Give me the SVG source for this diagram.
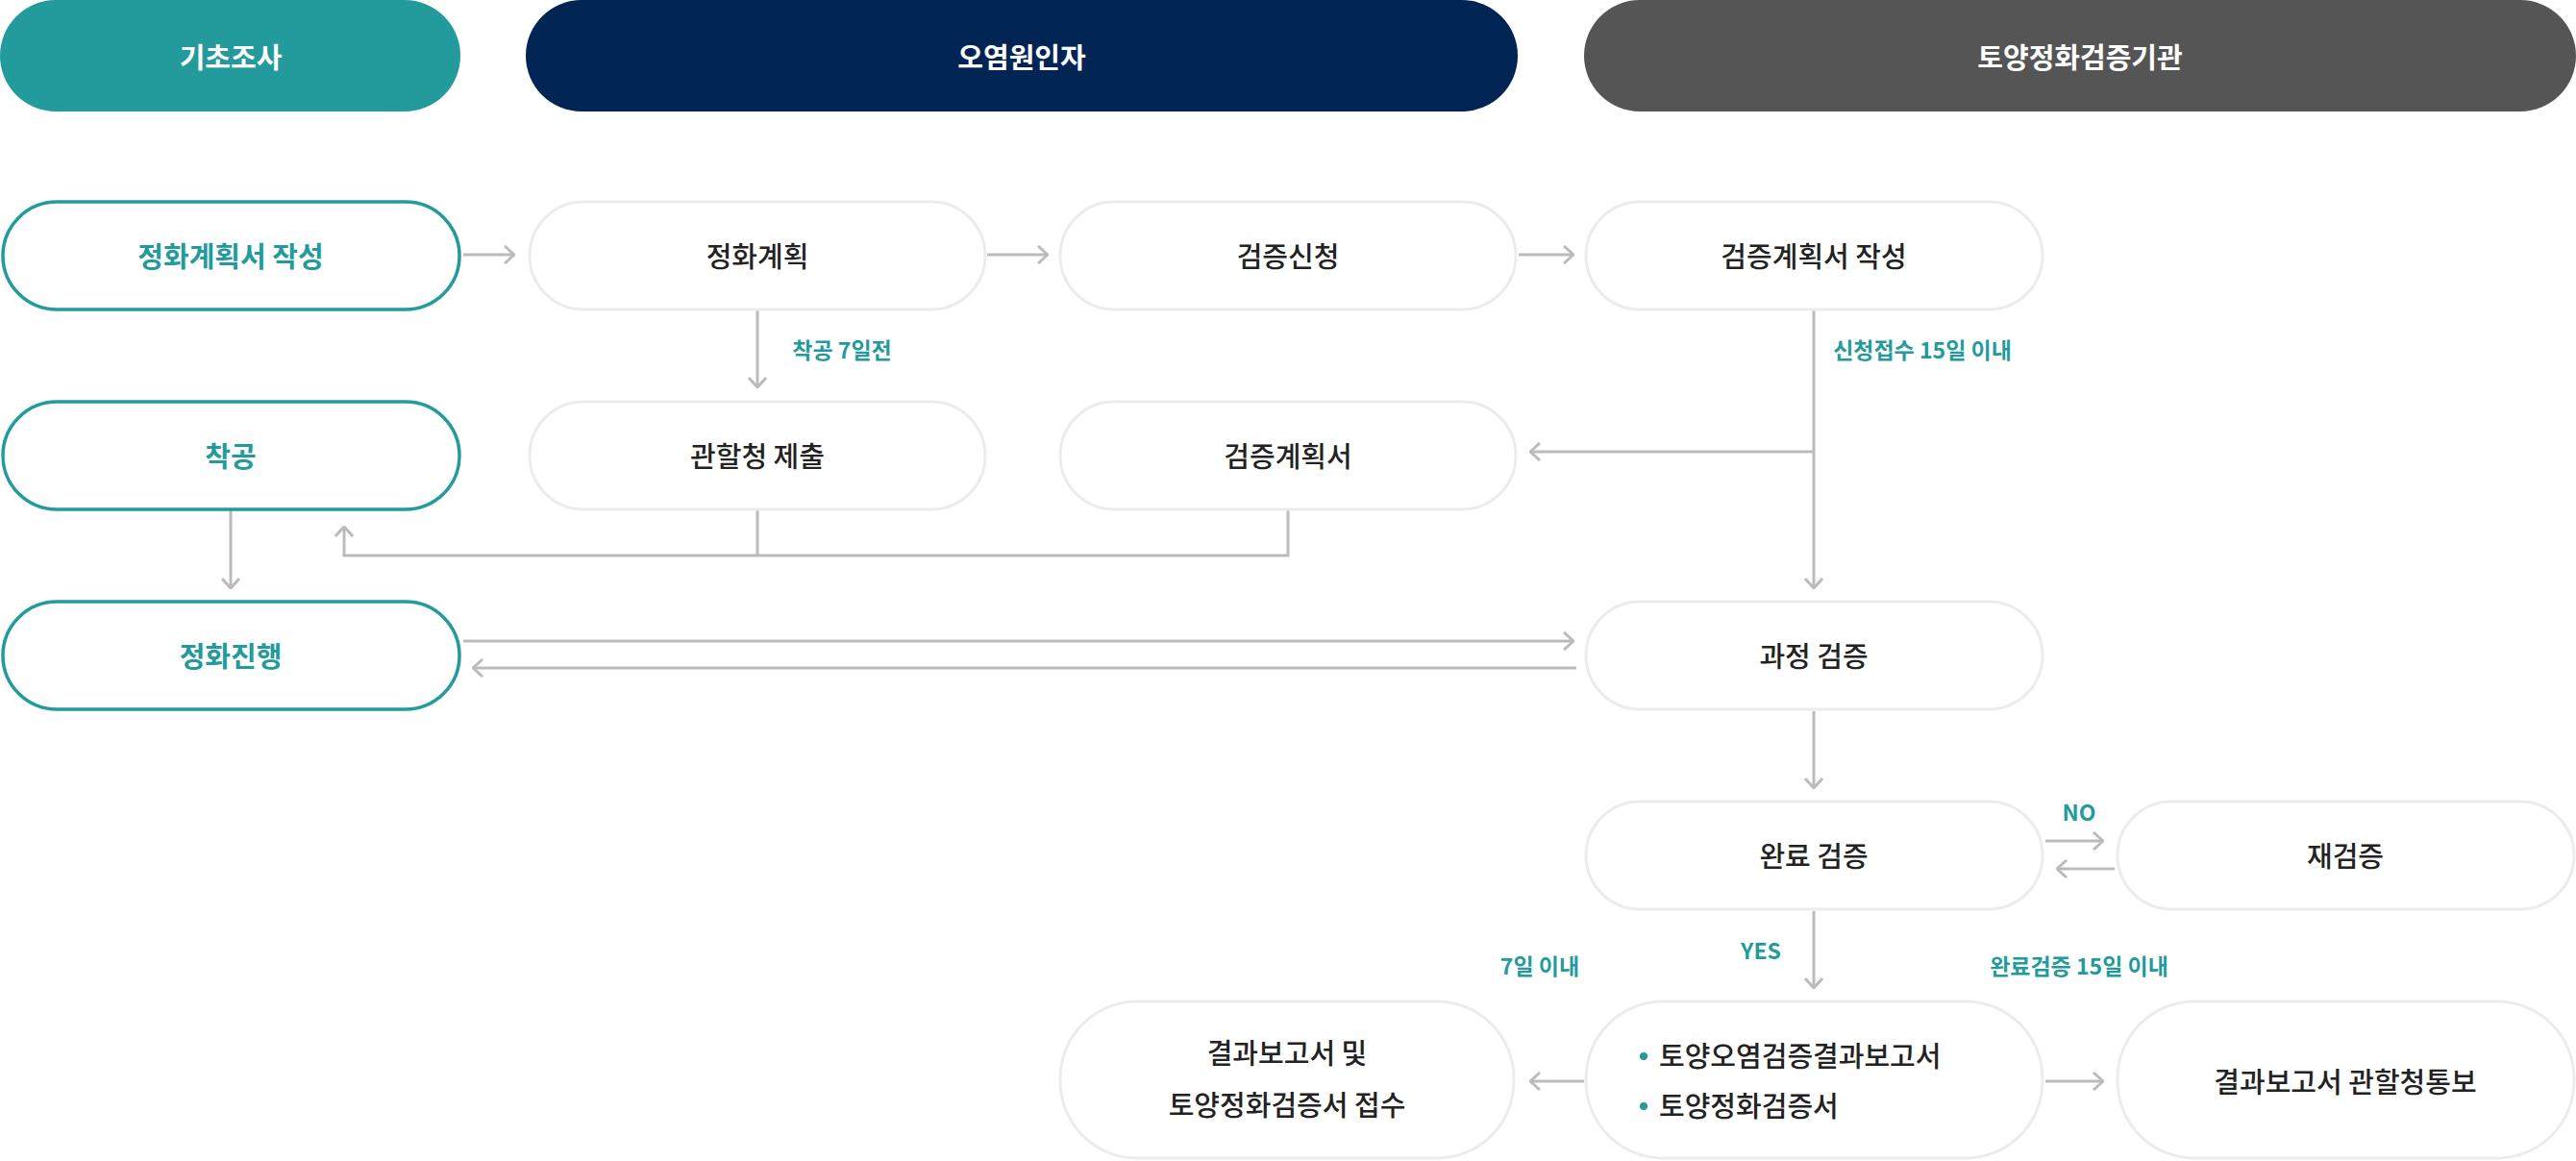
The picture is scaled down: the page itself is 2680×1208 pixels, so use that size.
<svg xmlns="http://www.w3.org/2000/svg" width="2680" height="1208" viewBox="0 0 2680 1208">
<defs>
<marker id="ah" viewBox="0 0 12 20" refX="11" refY="10" markerWidth="12" markerHeight="20" markerUnits="userSpaceOnUse" orient="auto"><path d="M1 1 L11 10 L1 19" fill="none" stroke="#bbb" stroke-width="3"/></marker>
<style>
text{font-family:"Noto Sans CJK KR","Noto Sans",sans-serif;text-anchor:middle;dominant-baseline:central}
.h{fill:#fff;font-size:29px;font-weight:700}
.n{fill:#fff;stroke:#ececec;stroke-width:3}
.t{fill:#fff;stroke:#239a9c;stroke-width:3.5}
.nt{fill:#222;font-size:29px;font-weight:500}
.tt{fill:#239a9c;font-size:29px;font-weight:700}
.lb{fill:#239a9c;font-size:23px;font-weight:700}
.c{fill:none;stroke:#bbb;stroke-width:3}
.a{marker-end:url(#ah)}
</style>
</defs>
<g id="headers">
<rect x="0" y="0" width="479" height="116" rx="58" fill="#239a9c"/><text class="h" x="240" y="58">기초조사</text>
<rect x="547" y="0" width="1032" height="116" rx="58" fill="#002454"/><text class="h" x="1063" y="58">오염원인자</text>
<rect x="1648" y="0" width="1032" height="116" rx="58" fill="#555"/><text class="h" x="2164" y="58">토양정화검증기관</text>
</g>
<g id="connectors">
<line class="c a" x1="482" y1="265" x2="535" y2="265"/>
<line class="c a" x1="1027" y1="265" x2="1090" y2="265"/>
<line class="c a" x1="1580" y1="265" x2="1637" y2="265"/>
<line class="c a" x1="788" y1="323" x2="788" y2="403"/>
<line class="c a" x1="1887" y1="323" x2="1887" y2="612"/>
<line class="c a" x1="1887" y1="470" x2="1592" y2="470"/>
<polyline class="c" points="788,531 788,578"/>
<polyline class="c a" points="1340,531 1340,578 358,578 358,548"/>
<line class="c a" x1="240" y1="531" x2="240" y2="612"/>
<line class="c a" x1="482" y1="667" x2="1637" y2="667"/>
<line class="c a" x1="1640" y1="695" x2="492" y2="695"/>
<line class="c a" x1="1887" y1="740" x2="1887" y2="820"/>
<line class="c a" x1="2128" y1="875" x2="2188" y2="875"/>
<line class="c a" x1="2200" y1="904" x2="2140" y2="904"/>
<line class="c a" x1="1887" y1="948" x2="1887" y2="1028"/>
<line class="c a" x1="1648" y1="1125" x2="1592" y2="1125"/>
<line class="c a" x1="2128" y1="1125" x2="2188" y2="1125"/>
<text class="lb" x="876" y="363">착공 7일전</text>
<text class="lb" x="2000" y="363">신청접수 15일 이내</text>
<text class="lb" x="2163" y="844">NO</text>
<text class="lb" x="1832" y="988">YES</text>
<text class="lb" x="1602" y="1004">7일 이내</text>
<text class="lb" x="2163" y="1004">완료검증 15일 이내</text>
</g>
<g id="n1"><rect class="t" x="3" y="210" width="475" height="112" rx="56"/><text class="tt" x="240" y="265">정화계획서 작성</text></g>
<g id="n2"><rect class="n" x="551" y="210" width="474" height="112" rx="56"/><text class="nt" x="788" y="265">정화계획</text></g>
<g id="n3"><rect class="n" x="1103" y="210" width="474" height="112" rx="56"/><text class="nt" x="1340" y="265">검증신청</text></g>
<g id="n4"><rect class="n" x="1650" y="210" width="475" height="112" rx="56"/><text class="nt" x="1887" y="265">검증계획서 작성</text></g>
<g id="n5"><rect class="t" x="3" y="418" width="475" height="112" rx="56"/><text class="tt" x="240" y="473">착공</text></g>
<g id="n6"><rect class="n" x="551" y="418" width="474" height="112" rx="56"/><text class="nt" x="788" y="473">관할청 제출</text></g>
<g id="n7"><rect class="n" x="1103" y="418" width="474" height="112" rx="56"/><text class="nt" x="1340" y="473">검증계획서</text></g>
<g id="n8"><rect class="t" x="3" y="626" width="475" height="112" rx="56"/><text class="tt" x="240" y="681">정화진행</text></g>
<g id="n9"><rect class="n" x="1650" y="626" width="475" height="112" rx="56"/><text class="nt" x="1887" y="681">과정 검증</text></g>
<g id="n10"><rect class="n" x="1650" y="834" width="475" height="112" rx="56"/><text class="nt" x="1887" y="889">완료 검증</text></g>
<g id="n11"><rect class="n" x="2203" y="834" width="475" height="112" rx="56"/><text class="nt" x="2440" y="889">재검증</text></g>
<g id="n12"><rect class="n" x="1103" y="1042" width="472" height="163" rx="80"/><text class="nt" x="1339" y="1094">결과보고서 및</text><text class="nt" x="1339" y="1148">토양정화검증서 접수</text></g>
<g id="n13"><rect class="n" x="1650" y="1042" width="475" height="163" rx="80"/><circle cx="1710" cy="1099" r="4" fill="#239a9c"/><circle cx="1710" cy="1151" r="4" fill="#239a9c"/><text class="nt" x="1726" y="1097" style="text-anchor:start">토양오염검증결과보고서</text><text class="nt" x="1726" y="1149" style="text-anchor:start">토양정화검증서</text></g>
<g id="n14"><rect class="n" x="2203" y="1042" width="475" height="163" rx="80"/><text class="nt" x="2440" y="1124">결과보고서 관할청통보</text></g>
</svg>
